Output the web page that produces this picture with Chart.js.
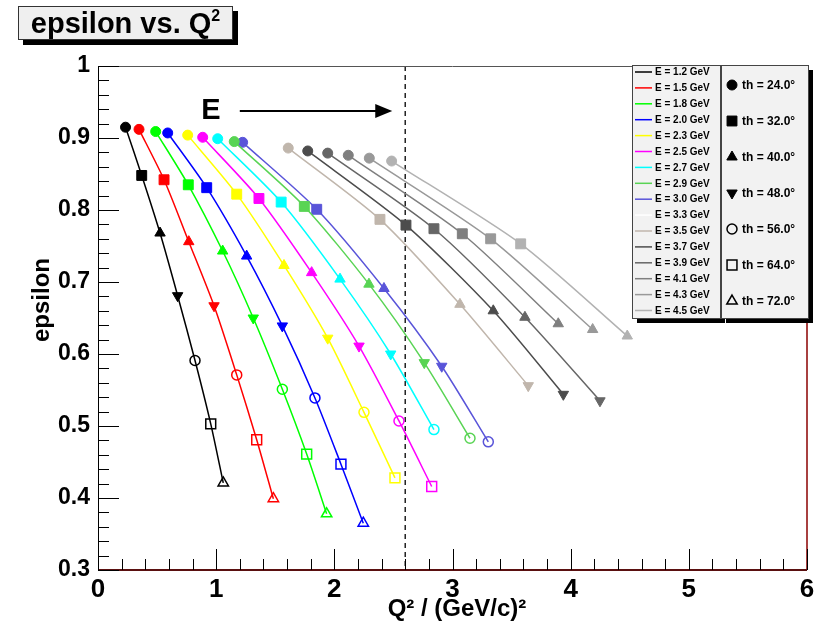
<!DOCTYPE html>
<html>
<head>
<meta charset="utf-8">
<title>epsilon vs. Q2</title>
<script src="https://cdn.jsdelivr.net/npm/chart.js@4.4.0/dist/chart.umd.min.js"></script>
<style>
  body { margin: 0; background: #fff; }
  #wrap { position: relative; width: 821px; height: 630px; }
  #plotTitle {
    position: absolute; left: 18px; top: 6px; width: 213px; height: 32px;
    background: #efefef; border: 1px solid #333; box-shadow: 5px 5px 0 #000;
    font: bold 29px "Liberation Sans", Arial, sans-serif; line-height: 32px;
    text-align: center; white-space: nowrap; overflow: hidden;
  }
  #plotTitle sup {
    font-size: 16px; line-height: 0; vertical-align: baseline;
    position: relative; top: -12px;
  }
</style>
</head>
<body>
<div id="wrap">
  <canvas id="epsChart"></canvas>
  <div id="plotTitle">epsilon vs. Q<sup>2</sup></div>
</div>
<script>
// beam energies (GeV) and scattering angles (deg)
const energies = ['1.2', '1.5', '1.8', '2.0', '2.3', '2.5', '2.7', '2.9', '3.0',
                  '3.3', '3.5', '3.7', '3.9', '4.1', '4.3', '4.5'];
const angles = ['24.0', '32.0', '40.0', '48.0', '56.0', '64.0', '72.0'];

// Q2 (GeV/c)^2 and epsilon per energy, one point per angle (in angle order)
const q2_E12 = [0.233, 0.370, 0.525, 0.674, 0.821, 0.954, 1.060];
const eps_E12 = [0.915, 0.848, 0.768, 0.681, 0.591, 0.503, 0.421];
const q2_E15 = [0.347, 0.559, 0.768, 0.982, 1.174, 1.343, 1.484];
const eps_E15 = [0.912, 0.842, 0.756, 0.667, 0.571, 0.481, 0.399];
const q2_E18 = [0.488, 0.764, 1.055, 1.314, 1.560, 1.766, 1.935];
const eps_E18 = [0.909, 0.835, 0.743, 0.650, 0.551, 0.461, 0.378];
const q2_E20 = [0.590, 0.920, 1.258, 1.560, 1.836, 2.056, 2.245];
const eps_E20 = [0.907, 0.831, 0.736, 0.639, 0.539, 0.447, 0.365];
const q2_E23 = [0.759, 1.174, 1.574, 1.944, 2.251, 2.513];
const eps_E23 = [0.904, 0.822, 0.723, 0.622, 0.519, 0.428];
const q2_E25 = [0.886, 1.362, 1.808, 2.209, 2.547, 2.824];
const eps_E25 = [0.901, 0.816, 0.713, 0.611, 0.507, 0.416];
const q2_E27 = [1.013, 1.550, 2.048, 2.477, 2.843];
const eps_E27 = [0.899, 0.811, 0.704, 0.600, 0.495];
const q2_E29 = [1.153, 1.746, 2.293, 2.761, 3.148];
const eps_E29 = [0.895, 0.805, 0.697, 0.588, 0.483];
const q2_E30 = [1.224, 1.851, 2.420, 2.909, 3.303];
const eps_E30 = [0.894, 0.801, 0.691, 0.583, 0.478];
const q2_E33 = []; // drawn white in the original, nothing visible
const eps_E33 = [];
const q2_E35 = [1.610, 2.386, 3.063, 3.641];
const eps_E35 = [0.886, 0.787, 0.669, 0.556];
const q2_E37 = [1.775, 2.606, 3.345, 3.938];
const eps_E37 = [0.882, 0.779, 0.660, 0.544];
const q2_E39 = [1.944, 2.843, 3.613, 4.248];
const eps_E39 = [0.879, 0.774, 0.651, 0.535];
const q2_E41 = [2.118, 3.083, 3.895];
const eps_E41 = [0.876, 0.767, 0.642];
const q2_E43 = [2.296, 3.323, 4.186];
const eps_E43 = [0.872, 0.760, 0.634];
const q2_E45 = [2.485, 3.577, 4.479];
const eps_E45 = [0.868, 0.753, 0.625];

const seriesQ2 = [q2_E12, q2_E15, q2_E18, q2_E20, q2_E23, q2_E25, q2_E27, q2_E29, q2_E30,
                  q2_E33, q2_E35, q2_E37, q2_E39, q2_E41, q2_E43, q2_E45];
const seriesEps = [eps_E12, eps_E15, eps_E18, eps_E20, eps_E23, eps_E25, eps_E27, eps_E29, eps_E30,
                   eps_E33, eps_E35, eps_E37, eps_E39, eps_E41, eps_E43, eps_E45];

const xTicks = [0, 1, 2, 3, 4, 5, 6];
const yTicks = [0.3, 0.4, 0.5, 0.6, 0.7, 0.8, 0.9, 1];
const cutQ2 = 2.6; // dashed line

// ROOT palette, colour index 1..16
const energyColors = ['#000000', '#ff0000', '#00ff00', '#0000ff', '#ffff00', '#ff00ff', '#00ffff',
                      '#59d454', '#5954d9', '#ffffff', '#c0b6ac', '#4c4c4c', '#666666',
                      '#7f7f7f', '#999999', '#b2b2b2'];

// marker per angle
const markerStyles = ['circle', 'rect', 'triangle', 'triangle', 'circle', 'rect', 'triangle'];
const markerRotation = [0, 0, 0, 180, 0, 0, 0];
const markerFilled = [true, true, true, true, false, false, false];
const markerRadius = [5, 7, 6, 6, 5, 7, 6];

const FONT = '"Liberation Sans", Arial, Helvetica, sans-serif';

const datasets = energies.map((e, i) => {
  const col = energyColors[i];
  const n = seriesQ2[i].length;
  return {
    label: `E = ${e} GeV`,
    data: seriesQ2[i].map((q, j) => ({ x: q, y: seriesEps[i][j] })),
    borderColor: col,
    backgroundColor: col,
    borderWidth: 1.5,
    tension: 0.25,
    pointStyle: markerStyles.slice(0, n),
    pointRotation: markerRotation.slice(0, n),
    pointRadius: markerRadius.slice(0, n),
    pointHoverRadius: markerRadius.slice(0, n),
    pointBackgroundColor: markerFilled.slice(0, n).map(f => f ? col : 'rgba(255,255,255,0)'),
    pointBorderColor: col,
    pointBorderWidth: markerFilled.slice(0, n).map(f => f ? 1 : 1.5)
  };
});

function drawMarker(ctx, j, x, y, col, bg) {
  ctx.save();
  ctx.fillStyle = markerFilled[j] ? col : bg;
  ctx.strokeStyle = col;
  ctx.lineWidth = markerFilled[j] ? 1 : 1.5;
  Chart.helpers.drawPoint(ctx, {
    pointStyle: markerStyles[j],
    rotation: markerRotation[j],
    radius: markerRadius[j],
    borderWidth: ctx.lineWidth
  }, x, y);
  ctx.restore();
}

// frame, inward ticks, dashed cut, arrow and axis titles
const rootFrame = {
  id: 'rootFrame',
  beforeDatasetsDraw(chart) {
    const { ctx, chartArea: a, scales: { x, y } } = chart;
    ctx.save();
    // dashed line
    const xc = x.getPixelForValue(cutQ2);
    ctx.strokeStyle = '#222';
    ctx.lineWidth = 1.5;
    ctx.setLineDash([5, 4]);
    ctx.beginPath();
    ctx.moveTo(xc, a.top);
    ctx.lineTo(xc, a.bottom);
    ctx.stroke();
    ctx.setLineDash([]);

    // arrow + E
    const ay = y.getPixelForValue(0.9375);
    const ax0 = x.getPixelForValue(1.2);
    const ax1 = x.getPixelForValue(2.49);
    ctx.strokeStyle = '#000';
    ctx.lineWidth = 2;
    ctx.beginPath();
    ctx.moveTo(ax0, ay);
    ctx.lineTo(ax1 - 14, ay);
    ctx.stroke();
    ctx.fillStyle = '#000';
    ctx.beginPath();
    ctx.moveTo(ax1, ay);
    ctx.lineTo(ax1 - 17, ay - 7);
    ctx.lineTo(ax1 - 17, ay + 7);
    ctx.closePath();
    ctx.fill();
    ctx.font = 'bold 29px ' + FONT;
    ctx.textAlign = 'center';
    ctx.textBaseline = 'middle';
    ctx.fillText('E', x.getPixelForValue(0.955), ay);
    ctx.restore();
  },
  afterDatasetsDraw(chart) {
    const { ctx, chartArea: a, scales: { x, y } } = chart;
    ctx.save();
    // top and right frame
    ctx.lineWidth = 1;
    ctx.strokeStyle = '#555';
    ctx.beginPath();
    ctx.moveTo(a.left, a.top + 0.5);
    ctx.lineTo(a.right, a.top + 0.5);
    ctx.stroke();
    ctx.strokeStyle = '#8b0000';
    ctx.lineWidth = 1.5;
    ctx.beginPath();
    ctx.moveTo(a.right, a.top);
    ctx.lineTo(a.right, a.bottom);
    ctx.stroke();

    // axes
    ctx.strokeStyle = '#000';
    ctx.lineWidth = 1;
    ctx.beginPath();
    ctx.moveTo(a.left + 0.5, a.top);
    ctx.lineTo(a.left + 0.5, a.bottom);
    ctx.stroke();
    ctx.strokeStyle = '#5a1010';
    ctx.lineWidth = 2;
    ctx.beginPath();
    ctx.moveTo(a.left, a.bottom);
    ctx.lineTo(a.right, a.bottom);
    ctx.stroke();

    // inward ticks
    ctx.strokeStyle = '#000';
    ctx.lineWidth = 1;
    ctx.beginPath();
    for (let k = 0; k <= 30; k++) {
      const v = k * 0.2;
      const px = Math.round(x.getPixelForValue(v)) + 0.5;
      const len = k % 5 === 0 ? 21 : 11;
      ctx.moveTo(px, a.bottom);
      ctx.lineTo(px, a.bottom - len);
    }
    for (let k = 0; k <= 35; k++) {
      const v = 0.3 + k * 0.02;
      const py = Math.round(y.getPixelForValue(v)) + 0.5;
      const len = k % 5 === 0 ? 21 : 11;
      ctx.moveTo(a.left, py);
      ctx.lineTo(a.left + len, py);
    }
    ctx.stroke();

    // axis titles
    ctx.fillStyle = '#000';
    ctx.font = 'bold 24px ' + FONT;
    ctx.textAlign = 'center';
    ctx.textBaseline = 'middle';
    ctx.fillText('Q\u00b2 / (GeV/c)\u00b2', 457, 609);
    ctx.translate(42, 300);
    ctx.rotate(-Math.PI / 2);
    ctx.fillText('epsilon', 0, 0);
    ctx.restore();
  }
};

function drawPave(ctx, x, y, w, h) {
  ctx.fillStyle = '#000';
  ctx.fillRect(x + 5, y + 5, w, h);
  ctx.fillStyle = '#f2f2f2';
  ctx.fillRect(x, y, w, h);
  ctx.strokeStyle = '#444';
  ctx.lineWidth = 1;
  ctx.strokeRect(x + 0.5, y + 0.5, w, h);
}

// two-box legend like the ROOT TLegends
const rootLegend = {
  id: 'rootLegend',
  afterDraw(chart) {
    const ctx = chart.ctx;
    ctx.save();
    drawPave(ctx, 632, 65, 88, 253);
    drawPave(ctx, 721, 65, 87, 253);

    ctx.textAlign = 'left';
    ctx.textBaseline = 'middle';
    ctx.font = 'bold 10px ' + FONT;
    energies.forEach((e, i) => {
      const yy = 72 + i * 15.9;
      ctx.strokeStyle = energyColors[i];
      ctx.lineWidth = 1.5;
      ctx.beginPath();
      ctx.moveTo(635, yy);
      ctx.lineTo(652, yy);
      ctx.stroke();
      ctx.fillStyle = '#000';
      ctx.fillText(`E = ${e} GeV`, 655, yy + 0.5);
    });

    angles.forEach((a, j) => {
      const yy = 85 + j * 36;
      drawMarker(ctx, j, 732, yy, '#000', '#f2f2f2');
      ctx.fillStyle = '#000';
      ctx.font = 'bold 12px ' + FONT;
      ctx.fillText(`th = ${a}\u00b0`, 742, yy + 0.5);
    });
    ctx.restore();
  }
};

new Chart(document.getElementById('epsChart'), {
  type: 'line',
  data: { datasets: datasets },
  options: {
    responsive: true,
    maintainAspectRatio: false,
    animation: false,
    layout: { padding: { top: 66, right: 14, left: 0, bottom: 0 } },
    plugins: {
      legend: { display: false },
      tooltip: { enabled: false }
    },
    scales: {
      x: {
        type: 'linear',
        min: 0,
        max: 6,
        afterFit: s => { s.height = 60; },
        afterBuildTicks: s => { s.ticks = xTicks.map(v => ({ value: v })); },
        ticks: {
          color: '#000',
          padding: 4,
          font: { family: FONT, size: 26, weight: 'bold' },
          callback: v => String(v)
        },
        grid: { display: false, drawTicks: false },
        border: { display: false }
      },
      y: {
        min: 0.3,
        max: 1,
        afterFit: s => { s.width = 98; },
        afterBuildTicks: s => { s.ticks = yTicks.map(v => ({ value: v })); },
        ticks: {
          color: '#000',
          padding: 8,
          font: { family: FONT, size: 23, weight: 'bold' },
          callback: v => String(Number(v.toFixed(1)))
        },
        grid: { display: false, drawTicks: false },
        border: { display: false }
      }
    }
  },
  plugins: [rootFrame, rootLegend]
});
</script>
</body>
</html>
